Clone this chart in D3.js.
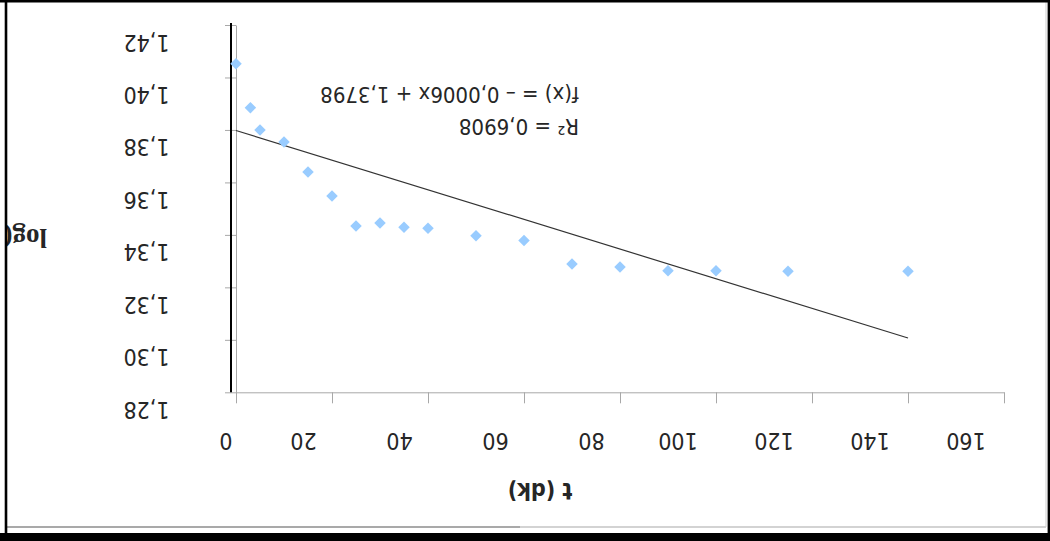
<!DOCTYPE html>
<html>
<head>
<meta charset="utf-8">
<script src="https://cdn.jsdelivr.net/npm/d3@7"></script>
<style>
  html, body { margin: 0; padding: 0; background: #fff; }
  svg { display: block; }
</style>
</head>
<body>
<svg id="chart" width="1050" height="541"></svg>
<script>
// Measurement series: time in days vs. log value
const days = [0, 3, 5, 10, 15, 20, 25, 30, 35, 40, 50, 60, 70, 80, 90, 100, 115, 140];
const logValues = [1.4052, 1.3885, 1.3800, 1.3754, 1.3640, 1.3548, 1.3434, 1.3445, 1.3429,
                   1.3425, 1.3397, 1.3379, 1.3289, 1.3278, 1.3263, 1.3263, 1.3261, 1.3261];

// Linear trend line
const trendSlope = -0.000565;
const trendIntercept = 1.3798;
const trendR2 = 0.6908;

const xTicks = [0, 20, 40, 60, 80, 100, 120, 140, 160];
const yTicks = [1.28, 1.30, 1.32, 1.34, 1.36, 1.38, 1.40, 1.42];
const xTitle = "t (dk)";
const yTitle = "log(";

const W = 1050, H = 541;
const svg = d3.select("#chart");
const trLocale = d3.formatLocale({ decimal: ",", thousands: ".", grouping: [3], currency: ["", " TL"] });
const f2 = trLocale.format(".2f");
const f4 = trLocale.format(".4f");

const x = d3.scaleLinear().domain([0, 160]).range([236, 1004]);
const y = d3.scaleLinear().domain([1.28, 1.42]).range([392.3, 25]);

const axisGray = "#a8a8a8";
const textCol = "#262626";
const labelFont = "DejaVu Sans Condensed, DejaVu Sans";

// clip for the plot-area contents (keeps the title inside the frame)
svg.append("clipPath").attr("id", "inner")
  .append("rect").attr("x", 7).attr("y", 2).attr("width", 1039).attr("height", 525);

// x axis
const gx = svg.append("g").attr("transform", `translate(0,${y(1.28)})`)
  .call(d3.axisBottom(x).tickValues(xTicks).tickSize(11).tickSizeOuter(0).tickFormat(""));
gx.select(".domain").attr("stroke", axisGray);
gx.selectAll(".tick line").attr("stroke", axisGray);

// y axis
const gy = svg.append("g").attr("transform", `translate(${x(0)},0)`)
  .call(d3.axisLeft(y).tickValues(yTicks).tickSize(11).tickSizeOuter(0).tickFormat(""));
gy.select(".domain").attr("stroke", axisGray);
gy.selectAll(".tick line").attr("stroke", axisGray);

// dark rule beside the value axis
svg.append("line")
  .attr("x1", x(0) - 5).attr("x2", x(0) - 5)
  .attr("y1", y(1.42) - 2).attr("y2", y(1.28))
  .attr("stroke", "#000").attr("stroke-width", 2);

// tick labels (drawn turned half a turn)
svg.append("g").selectAll("text").data(yTicks).join("text")
  .attr("transform", d => `translate(146.5,${y(d) + 17.5}) rotate(180)`)
  .attr("text-anchor", "middle").attr("dominant-baseline", "central")
  .attr("font-family", labelFont).attr("font-size", 23).attr("fill", textCol)
  .text(d => f2(d));

const xShift = s => s.length === 1 ? -10 : (s.length === 2 ? -28.5 : -38);
svg.append("g").selectAll("text").data(xTicks).join("text")
  .attr("transform", d => `translate(${x(d) + xShift(String(d))},441) rotate(180)`)
  .attr("text-anchor", "middle").attr("dominant-baseline", "central")
  .attr("font-family", labelFont).attr("font-size", 23).attr("fill", textCol)
  .text(d => String(d));

// axis titles
svg.append("text")
  .attr("transform", "translate(540,491) rotate(180)")
  .attr("text-anchor", "middle").attr("dominant-baseline", "central")
  .attr("font-family", labelFont).attr("font-weight", "bold").attr("font-size", 23)
  .attr("fill", textCol).text(xTitle);

svg.append("g").attr("clip-path", "url(#inner)")
  .append("text")
  .attr("transform", "translate(47,238) rotate(180)")
  .attr("text-anchor", "start").attr("dominant-baseline", "central")
  .attr("font-family", "Liberation Serif").attr("font-weight", "bold").attr("font-size", 27)
  .attr("fill", textCol).text(yTitle);

// trend line
const trend = d => trendIntercept + trendSlope * d;
const xEnd = d3.max(days);
svg.append("path")
  .datum([0, xEnd])
  .attr("d", d3.line().x(d => x(d)).y(d => y(trend(d))))
  .attr("fill", "none").attr("stroke", "#333").attr("stroke-width", 1.2);

// data points
const diamond = d3.symbol(d3.symbolSquare, 66);
svg.append("g").selectAll("path").data(days).join("path")
  .attr("d", diamond)
  .attr("transform", (d, i) => `translate(${x(d)},${y(logValues[i])}) rotate(45)`)
  .attr("fill", "#99ccff");

// trend equation
const sign = trendSlope < 0 ? "– " : "";
const eq = `f(x) = ${sign}${f4(Math.abs(trendSlope))}x + ${f4(trendIntercept)}`;
svg.append("text")
  .attr("transform", "translate(579,94) rotate(180)")
  .attr("text-anchor", "start").attr("dominant-baseline", "central")
  .attr("font-family", labelFont).attr("font-size", 22).attr("fill", textCol)
  .text(eq);
svg.append("text")
  .attr("transform", "translate(579,126) rotate(180)")
  .attr("text-anchor", "start").attr("dominant-baseline", "central")
  .attr("font-family", labelFont).attr("font-size", 22).attr("fill", textCol)
  .text(`R² = ${f4(trendR2)}`);

// frame
svg.append("line").attr("x1", 7).attr("x2", 520).attr("y1", 527).attr("y2", 527)
  .attr("stroke", "#8c8c8c").attr("stroke-width", 1.5);
svg.append("line").attr("x1", 520).attr("x2", 1046).attr("y1", 527).attr("y2", 527)
  .attr("stroke", "#c4c4c4").attr("stroke-width", 1.5);
svg.append("line").attr("x1", 1046).attr("x2", 1046).attr("y1", 2).attr("y2", 527)
  .attr("stroke", "#cfcfcf").attr("stroke-width", 1);
svg.append("rect").attr("x", 0).attr("y", 0).attr("width", W).attr("height", 2.5).attr("fill", "#000");
svg.append("rect").attr("x", 4.7).attr("y", 0).attr("width", 2.6).attr("height", H).attr("fill", "#000");
svg.append("rect").attr("x", 1047.6).attr("y", 0).attr("width", 2.4).attr("height", H).attr("fill", "#000");
svg.append("rect").attr("x", 0).attr("y", 533).attr("width", W).attr("height", 8).attr("fill", "#000");
</script>
</body>
</html>
